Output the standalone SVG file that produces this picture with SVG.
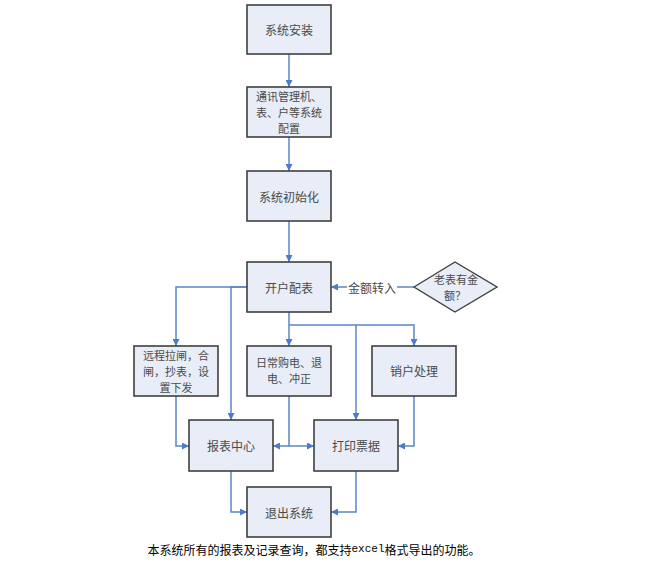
<svg xmlns="http://www.w3.org/2000/svg" width="665" height="561" viewBox="0 0 665 561">
<style>
.box{fill:#e8edf7;stroke:#3f3f3f;stroke-width:1.6}
.t{font-family:"Noto Sans CJK SC","Liberation Sans",sans-serif;font-size:12px;fill:#4a4a4a;text-anchor:middle;dominant-baseline:central}
.m{font-size:11px}
.c{fill:none;stroke:#5b86c5;stroke-width:1.5}
</style>
<defs>
<marker id="a" viewBox="0 0 10 10" refX="10" refY="5" markerWidth="7" markerHeight="7" markerUnits="userSpaceOnUse" orient="auto">
<path d="M0,0L10,5L0,10z" fill="#4a7cc7"/>
</marker>
</defs>
<rect width="665" height="561" fill="#fff"/>
<g id="connectors">
<path class="c" d="M289,54V87" marker-end="url(#a)"/>
<path class="c" d="M289,137V171" marker-end="url(#a)"/>
<path class="c" d="M289,221V262" marker-end="url(#a)"/>
<path class="c" d="M414,287H331" marker-end="url(#a)"/>
<path class="c" d="M247,287H176V346" marker-end="url(#a)"/>
<path class="c" d="M247,287H231V420" marker-end="url(#a)"/>
<path class="c" d="M289,312V346" marker-end="url(#a)"/>
<path class="c" d="M289,325H414V346" marker-end="url(#a)"/>
<path class="c" d="M356,325V420" marker-end="url(#a)"/>
<path class="c" d="M176,396V446H189" marker-end="url(#a)"/>
<path class="c" d="M289,396V446H273" marker-end="url(#a)"/>
<path class="c" d="M289,446H314" marker-end="url(#a)"/>
<path class="c" d="M414,396V446H398" marker-end="url(#a)"/>
<path class="c" d="M231,471V512H247" marker-end="url(#a)"/>
<path class="c" d="M356,471V512H331" marker-end="url(#a)"/>
<rect x="347" y="279" width="50" height="16" fill="#fff"/>
<text class="t" x="372" y="287">金额转入</text>
</g>
<g id="n1"><rect class="box" x="247" y="5" width="84" height="49"/><text class="t" x="289" y="29.5">系统安装</text></g>
<g id="n2"><rect class="box" x="247" y="87" width="84" height="50"/>
<text class="t m" x="289" y="96">通讯管理机、</text><text class="t m" x="289" y="112">表、户等系统</text><text class="t m" x="289" y="128">配置</text></g>
<g id="n3"><rect class="box" x="247" y="171" width="84" height="50"/><text class="t" x="289" y="196">系统初始化</text></g>
<g id="n4"><rect class="box" x="247" y="262" width="84" height="50"/><text class="t" x="289" y="287">开户配表</text></g>
<g id="n5"><path d="M414,287L455,262L497,287L455,312Z" fill="#e8edf7" stroke="#3f3f3f" stroke-width="1.4"/>
<text class="t m" x="456" y="279">老表有金</text><text class="t m" x="455" y="295">额？</text></g>
<g id="n6"><rect class="box" x="134" y="346" width="84" height="50"/>
<text class="t m" x="176" y="355">远程拉闸，合</text><text class="t m" x="176" y="371">闸，抄表，设</text><text class="t m" x="176" y="387">置下发</text></g>
<g id="n7"><rect class="box" x="247" y="346" width="84" height="50"/>
<text class="t m" x="289" y="362">日常购电、退</text><text class="t m" x="289" y="378">电、冲正</text></g>
<g id="n8"><rect class="box" x="372" y="346" width="84" height="50"/><text class="t" x="414" y="370">销户处理</text></g>
<g id="n9"><rect class="box" x="189" y="420" width="84" height="51"/><text class="t" x="231" y="445">报表中心</text></g>
<g id="n10"><rect class="box" x="314" y="420" width="84" height="51"/><text class="t" x="356" y="445">打印票据</text></g>
<g id="n11"><rect class="box" x="247" y="487" width="84" height="50"/><text class="t" x="289" y="512">退出系统</text></g>
<text x="314" y="549" font-family="Noto Sans CJK SC,Liberation Sans,sans-serif" font-size="12" fill="#000" text-anchor="middle" dominant-baseline="central">本系统所有的报表及记录查询，都支持<tspan font-family="Liberation Mono,monospace" font-size="11">excel</tspan>格式导出的功能。</text>
</svg>
